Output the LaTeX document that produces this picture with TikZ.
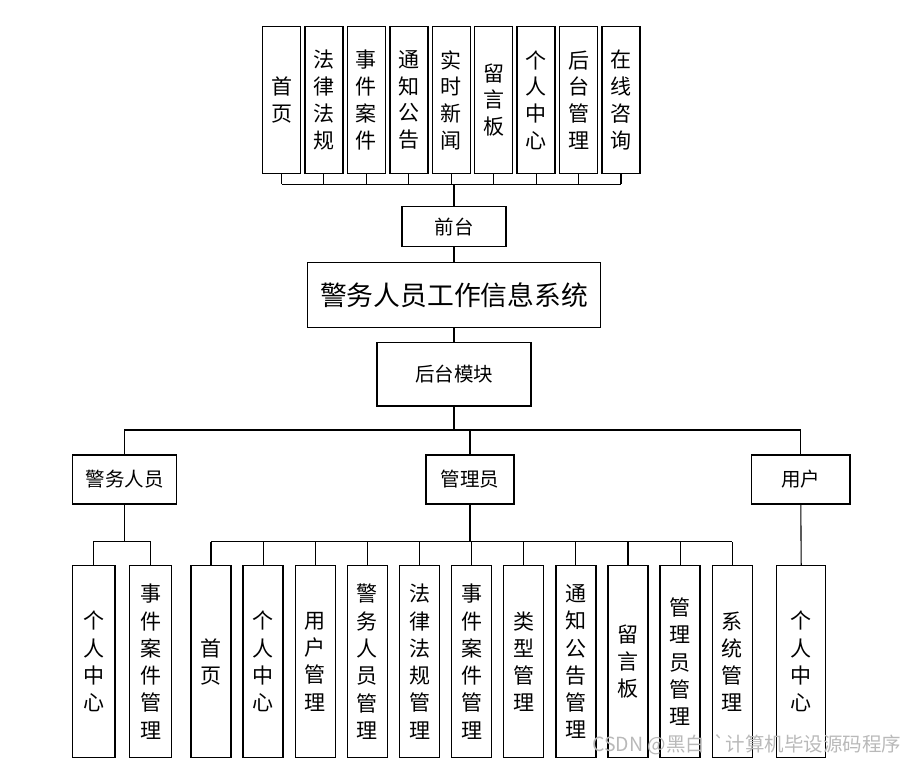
\documentclass[tikz,border=0pt]{standalone}
\usepackage{fontspec}
\setmainfont{Noto Sans CJK SC}
\usetikzlibrary{positioning}

\tikzset{
  box/.style={draw,line width=1.4pt,inner sep=0pt,align=center},
  topbox/.style={box,minimum width=38pt,minimum height=146.6pt,
    font=\fontsize{21}{26.7}\selectfont},
  subbox/.style={box,minimum width=40pt,minimum height=192pt,
    font=\fontsize{21}{27.3}\selectfont},
  headbox/.style={box,minimum height=49pt,font=\fontsize{19.5}{22}\selectfont},
  link/.style={line width=1.1pt}
}

\begin{document}
\begin{tikzpicture}[x=1pt,y=-1pt]
    \useasboundingbox (0,0) rectangle (918,765);
    % front end pages
    \foreach \t [count=\i] in {首\\页,法\\律\\法\\规,事\\件\\案\\件,通\\知\\公\\告,实\\时\\新\\闻,
        留\\言\\板,个\\人\\中\\心,后\\台\\管\\理,在\\线\\咨\\询}
    {
        \node (t\i) at ({281.5+42.44*(\i-1)},100) [topbox] {\t};
    }
    \node (qt) at (454,226.7) [box,minimum width=103.7pt,minimum height=40pt,
        font=\fontsize{19.5}{22}\selectfont] {前台};
    \node (sys) at (454,295) [box,minimum width=293.4pt,minimum height=64.6pt,
        font=\fontsize{26.8}{30}\selectfont] {警务人员工作信息系统};
    \node (ht) at (454,374.2) [box,minimum width=153.7pt,minimum height=63.7pt,
        font=\fontsize{19.5}{22}\selectfont] {后台模块};
    \coordinate (topbus) at (454,184.3);
    \foreach \i in {1,...,9}
        \draw [link] (t\i.south) -- (t\i.south |- topbus);
    \draw [link] (t1.south |- topbus) -- (t9.south |- topbus);
    \draw [link] (topbus) -- (qt.north);
    \draw [link] (qt.south) -- (sys.north);
    \draw [link] (sys.south) -- (ht.north);

    % roles
    \node (jw) at (124.7,479.5) [headbox,minimum width=104pt] {警务人员};
    \node (gl) at (470,479.5) [headbox,minimum width=88.3pt] {管理员};
    \node (yh) at (800.8,479.5) [headbox,minimum width=98.3pt] {用户};
    \coordinate (rolebus) at (454,430);
    \draw [link] (ht.south) -- (rolebus);
    \draw [link] (jw.north) -- (jw.north |- rolebus) -- (yh.north |- rolebus) -- (yh.north);
    \draw [link] (gl.north) -- (gl.north |- rolebus);

    % police pages
    \node (p1) at (93.8,661.7) [subbox,minimum width=42.3pt] {个\\人\\中\\心};
    \node (p2) at (150.5,661.7) [subbox,minimum width=42.3pt] {事\\件\\案\\件\\管\\理};
    \coordinate (pbus) at (124.7,541.7);
    \draw [link] (jw.south) -- (pbus);
    \draw [link] (p1.north) -- (p1.north |- pbus) -- (p2.north |- pbus) -- (p2.north);

    % admin pages
    \foreach \t [count=\i] in {首\\页,个\\人\\中\\心,用\\户\\管\\理,警\\务\\人\\员\\管\\理,
        法\\律\\法\\规\\管\\理,事\\件\\案\\件\\管\\理,类\\型\\管\\理,通\\知\\公\\告\\管\\理,
        留\\言\\板,管\\理\\员\\管\\理,系\\统\\管\\理}
    {
        \node (a\i) at ({211+52.13*(\i-1)},661.7) [subbox] {\t};
    }
    \coordinate (abus) at (470,541.7);
    \draw [link] (gl.south) -- (abus);
    \draw [link] (a1.north |- abus) -- (a11.north |- abus);
    \foreach \i in {1,...,11}
        \draw [link] (a\i.north) -- (a\i.north |- abus);

    % user pages
    \node (u1) at (801.2,661.7) [subbox,minimum width=49pt] {个\\人\\中\\心};
    \draw [link] (yh.south) -- (u1.north);

    \node (wm) at (746.7,745) [text=gray!55,font=\fontsize{19.5}{22}\selectfont]
        {CSDN @黑白\ \ \textasciigrave 计算机毕设源码程序};
\end{tikzpicture}
\end{document}
